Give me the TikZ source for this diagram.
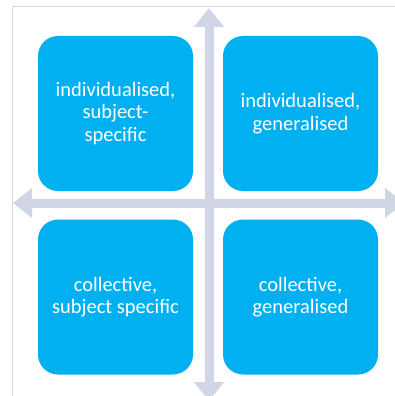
\documentclass[tikz,border=0pt]{standalone}
\usepackage{fontspec}
\setmainfont{Carlito}
\usepackage{tikz}
\usetikzlibrary{arrows.meta}
\definecolor{boxblue}{RGB}{0,176,240}
\definecolor{axisgray}{RGB}{208,214,230}
\definecolor{framegray}{RGB}{217,217,217}
\tikzset{quad/.style = {shape=rectangle,rounded corners=20pt,fill=boxblue,text=white,
    minimum width=155pt,minimum height=155pt,align=center,
    font=\fontsize{20.5}{22.5}\selectfont}}
\tikzset{axis/.style = {draw=axisgray,line width=9pt,
    {Triangle[length=19pt,width=29pt]}-{Triangle[length=19pt,width=29pt]}}}

\begin{document}
\begin{tikzpicture}[x=1pt,y=-1pt]
            \useasboundingbox (0,0) rectangle (395,396);
            % Frame
            \draw[framegray,line width=1pt] (12,396) -- (12,7) -- (395,7);

            % Quadrants
            \node[quad] (il) at (115.5,113.5) {individualised,\\subject-\\specific};
            \node[quad] (ir) at (300.5,113.5) {individualised,\\generalised};
            \node[quad] (cl) at (115.5,297) {collective,\\subject specific};
            \node[quad] (cr) at (300.5,297) {collective,\\generalised};

            % Axes
            \coordinate (top) at (209,8);
            \coordinate (bottom) at (209,401);
            \coordinate (left) at (13,203);
            \coordinate (right) at (404,203);
            \draw[axis] (bottom) -- (top);
            \draw[axis] (left) -- (right);
        \end{tikzpicture}
\end{document}
